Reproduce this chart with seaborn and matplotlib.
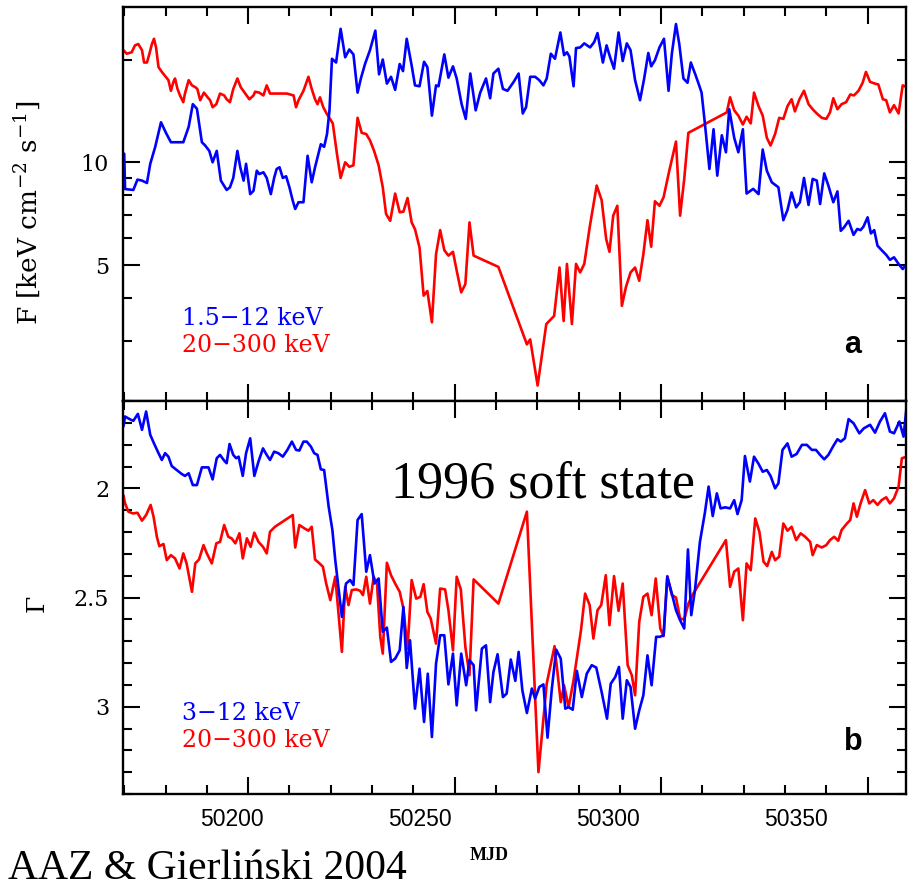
import matplotlib
matplotlib.use("Agg")
import matplotlib.pyplot as plt
import pandas as pd
import seaborn as sns
from matplotlib.ticker import FixedLocator, MultipleLocator, NullFormatter, FuncFormatter

# ---------------------------------------------------------------------------
# Light curves of the 1996 soft state (energy flux and photon index)
# ---------------------------------------------------------------------------

# Energy flux, 1.5-12 keV
soft_flux_mjd = [
    50170.0, 50170.2, 50172.2, 50173.2, 50174.3, 50175.5, 50176.3, 50177.5, 50178.9, 50180.1,
    50181.3, 50182.7, 50184.3, 50185.6, 50186.6, 50187.6, 50188.8, 50189.6, 50190.6, 50191.4,
    50192.4, 50193.4, 50194.8, 50195.6, 50196.4, 50197.4, 50198.1, 50198.9, 50199.5, 50200.5,
    50201.3, 50202.1, 50202.7, 50203.7, 50204.5, 50205.5, 50206.3, 50206.9, 50207.6, 50208.4,
    50209.2, 50210.0, 50210.8, 50211.4, 50212.2, 50213.4, 50214.4, 50215.4, 50216.2, 50217.6,
    50218.4, 50219.1, 50219.7, 50220.3, 50221.3, 50222.4, 50223.5, 50224.5, 50225.5, 50226.5,
    50227.3, 50228.3, 50229.5, 50230.8, 50231.7, 50232.6, 50233.6, 50234.6, 50235.6, 50236.7,
    50237.5, 50238.4, 50239.6, 50240.4, 50241.5, 50242.6, 50243.4, 50244.5, 50245.5, 50246.1,
    50247.5, 50248.5, 50249.6, 50250.5, 50251.7, 50252.7, 50253.8, 50255.1, 50256.2, 50257.6,
    50258.6, 50259.4, 50260.6, 50261.7, 50262.8, 50264.3, 50265.5, 50266.5, 50267.3, 50268.3,
    50269.5, 50270.5, 50271.5, 50272.3, 50273.3, 50274.3, 50275.6, 50276.5, 50277.2, 50277.8,
    50278.8, 50279.4, 50280.4, 50281.4, 50282.8, 50283.8, 50284.6, 50285.9, 50286.8, 50287.6,
    50288.6, 50289.7, 50290.7, 50291.7, 50292.6, 50293.7, 50294.9, 50295.9, 50296.9, 50297.6,
    50298.5, 50299.6, 50300.7, 50301.8, 50302.6, 50303.6, 50304.4, 50305.4, 50306.4, 50307.2,
    50308.2, 50309.0, 50309.8, 50310.6, 50311.7, 50312.7, 50313.6, 50314.7, 50315.7, 50316.5,
    50317.7, 50318.7, 50319.8, 50320.7, 50322.3, 50323.6, 50324.6, 50325.6, 50326.8, 50328.4,
    50329.6, 50330.6, 50331.6, 50332.7, 50333.6, 50334.6, 50335.7, 50336.7, 50337.7, 50338.5,
    50339.5, 50340.5, 50341.7, 50342.7, 50343.5, 50344.3, 50345.4, 50346.6, 50347.5, 50348.3,
    50349.0, 50350.0, 50350.8, 50351.6, 50352.4, 50353.4, 50354.5, 50355.4, 50356.4, 50357.5,
    50358.5, 50359.5, 50360.1,
]
soft_flux = [
    10.6, 8.35, 8.3, 8.9, 8.84, 8.7, 9.9, 11.1, 13.1, 12.2,
    11.45, 11.45, 11.45, 12.7, 14.8, 14.35, 11.45, 11.2, 10.8, 10.0,
    10.8, 8.84, 8.3, 8.45, 9.0, 10.8, 9.67, 8.84, 9.9, 8.07,
    8.25, 9.45, 9.24, 9.35, 9.0, 8.07, 9.0, 9.56, 9.67, 9.0,
    9.1, 8.45, 7.72, 7.3, 7.64, 7.64, 10.45, 8.74, 9.67, 11.3,
    11.1, 12.1, 14.2, 20.1, 19.6, 24.6, 20.3, 21.4, 20.7, 16.0,
    17.6, 19.4, 21.3, 24.3, 18.1, 20.0, 17.0, 17.8, 16.3, 19.4,
    18.5, 23.0, 19.2, 16.8, 16.7, 19.7, 19.0, 13.7, 16.8, 16.7,
    20.7, 17.7, 19.1, 17.6, 14.8, 13.4, 18.2, 14.2, 16.0, 17.6,
    15.4, 18.2, 18.8, 16.4, 16.2, 17.2, 18.2, 13.9, 14.5, 17.8,
    17.8, 17.4, 16.8, 17.6, 20.8, 20.1, 24.0, 20.6, 21.0, 20.4,
    16.7, 21.6, 21.7, 22.3, 21.7, 22.5, 23.9, 19.6, 22.0, 20.4,
    18.8, 24.0, 19.8, 22.3, 21.3, 17.4, 15.2, 17.6, 20.9, 19.1,
    19.9, 21.7, 23.0, 16.2, 20.8, 25.4, 22.2, 17.6, 17.1, 19.6,
    18.2, 17.1, 16.0, 13.0, 9.56, 12.5, 9.14, 12.0, 10.7, 14.3,
    11.8, 10.7, 12.5, 8.1, 8.36, 8.07, 10.9, 9.45, 8.74, 8.45,
    6.77, 7.25, 8.16, 7.38, 7.64, 9.0, 7.5, 8.94, 8.84, 7.55,
    9.28, 8.55, 7.64, 8.22, 6.3, 6.45, 6.74, 6.13, 6.38, 6.33,
    6.48, 6.9, 6.19, 6.33, 5.7, 5.53, 5.36, 5.18, 5.27, 5.04,
    4.87, 5.04, 5.28,
]

# Energy flux, 20-300 keV
hard_flux_mjd = [
    50169.8, 50170.6, 50171.8, 50172.6, 50173.4, 50174.3, 50174.8, 50175.5, 50176.1, 50176.7,
    50177.2, 50177.7, 50178.3, 50179.1, 50179.9, 50180.7, 50181.3, 50181.9, 50182.3, 50182.9,
    50183.5, 50184.3, 50184.7, 50185.6, 50186.4, 50187.2, 50187.7, 50188.4, 50189.3, 50190.2,
    50190.8, 50191.4, 50192.3, 50193.2, 50194.2, 50194.8, 50195.6, 50196.4, 50197.4, 50198.2,
    50199.3, 50200.3, 50201.3, 50201.7, 50202.7, 50203.7, 50204.5, 50205.3, 50207.3, 50209.4,
    50211.0, 50211.6, 50212.2, 50213.4, 50214.6, 50215.4, 50216.2, 50216.8, 50217.4, 50218.2,
    50219.0, 50220.5, 50221.5, 50222.4, 50223.5, 50224.5, 50225.5, 50226.5, 50227.5, 50228.6,
    50229.5, 50230.5, 50231.6, 50232.6, 50233.4, 50234.4, 50235.6, 50236.7, 50237.6, 50238.6,
    50239.6, 50240.4, 50241.5, 50242.5, 50243.4, 50244.5, 50245.5, 50246.5, 50247.5, 50248.5,
    50249.6, 50250.5, 50251.6, 50252.6, 50253.6, 50254.6, 50260.6, 50267.5, 50268.3, 50270.1,
    50272.2, 50274.1, 50275.4, 50276.4, 50277.2, 50278.4, 50279.4, 50280.4, 50281.4, 50282.7,
    50284.4, 50285.6, 50286.7, 50287.5, 50288.4, 50289.4, 50290.5, 50291.5, 50292.6, 50293.7,
    50294.7, 50295.7, 50296.7, 50297.6, 50298.5, 50299.6, 50300.6, 50301.8, 50302.8, 50303.6,
    50304.6, 50305.6, 50306.6, 50315.9, 50316.7, 50317.7, 50318.7, 50319.8, 50320.7, 50321.7,
    50322.5, 50323.6, 50324.6, 50325.6, 50326.5, 50327.6, 50328.6, 50329.6, 50330.6, 50331.6,
    50332.4, 50333.5, 50334.6, 50335.7, 50336.7, 50337.7, 50338.9, 50340.0, 50340.9, 50341.7,
    50342.7, 50343.7, 50344.8, 50345.8, 50346.7, 50347.8, 50348.8, 50349.6, 50350.6, 50351.8,
    50352.6, 50353.7, 50354.5, 50355.4, 50356.4, 50357.5, 50358.5, 50359.5,
]
hard_flux = [
    21.3, 20.8, 21.0, 22.0, 22.2, 21.3, 19.6, 19.6, 20.8, 22.2,
    23.0, 21.7, 19.0, 18.4, 17.9, 17.4, 16.2, 17.2, 17.6, 16.4,
    15.7, 15.0, 15.9, 17.4, 16.8, 16.6, 16.4, 15.2, 16.0, 15.5,
    15.2, 14.5, 14.8, 15.9, 15.7, 15.3, 15.0, 16.4, 17.6, 16.6,
    15.9, 15.3, 15.7, 16.1, 16.0, 15.7, 16.8, 15.9, 15.9, 15.9,
    15.7, 14.5, 15.2, 16.2, 17.8, 16.4, 15.3, 14.8, 15.5, 14.5,
    13.9, 13.0, 10.6, 9.0, 10.0, 9.7, 9.8, 13.5, 12.2, 12.1,
    11.6, 10.8, 9.8, 8.45, 7.06, 6.74, 8.1, 7.14, 7.17, 7.86,
    6.67, 6.37, 5.63, 4.07, 4.2, 3.4, 5.38, 6.33, 5.53, 5.33,
    5.47, 4.82, 4.16, 4.4, 6.67, 5.33, 4.94, 2.93, 3.03, 2.22,
    3.36, 3.55, 4.92, 3.43, 5.04, 3.36, 5.04, 4.76, 5.04, 6.45,
    8.55, 7.75, 5.96, 5.47, 6.98, 7.46, 3.8, 4.32, 4.76, 4.92,
    4.5, 5.38, 6.77, 5.66, 7.69, 7.46, 7.9, 9.24, 10.45, 11.5,
    6.98, 8.94, 12.2, 14.0, 15.5, 14.2, 13.7, 12.9, 13.6, 13.0,
    16.0, 14.6, 13.7, 11.8, 11.2, 12.1, 13.5, 13.4, 14.6, 15.3,
    14.1, 15.3, 16.2, 14.8, 14.3, 13.9, 13.5, 13.4, 14.0, 15.4,
    14.3, 14.8, 15.0, 15.8, 15.7, 16.2, 17.1, 18.4, 17.2, 17.0,
    16.9, 15.3, 15.2, 14.0, 14.7, 13.9, 16.8, 16.6,
]

# Photon index, 3-12 keV
soft_gamma_mjd = [
    50169.8, 50170.2, 50171.3, 50172.2, 50173.3, 50174.3, 50175.3, 50176.3, 50177.2, 50178.3,
    50179.1, 50179.9, 50180.7, 50181.5, 50182.7, 50183.9, 50184.7, 50185.6, 50186.6, 50187.6,
    50188.8, 50190.4, 50191.4, 50192.4, 50193.2, 50194.2, 50194.8, 50195.5, 50196.4, 50197.1,
    50197.7, 50198.7, 50199.5, 50200.5, 50201.5, 50202.5, 50203.6, 50204.5, 50205.3, 50206.3,
    50207.3, 50208.4, 50209.5, 50210.6, 50211.6, 50212.4, 50213.4, 50214.2, 50215.2, 50216.0,
    50216.8, 50217.6, 50218.4, 50219.5, 50220.4, 50221.1, 50222.7, 50223.7, 50224.7, 50225.5,
    50226.5, 50227.5, 50228.6, 50229.5, 50230.6, 50231.6, 50232.6, 50233.6, 50234.6, 50235.6,
    50236.7, 50237.6, 50238.4, 50239.2, 50240.4, 50241.5, 50242.6, 50243.5, 50244.5, 50245.5,
    50246.5, 50247.5, 50248.5, 50249.6, 50250.5, 50251.6, 50252.8, 50253.6, 50254.6, 50255.2,
    50256.6, 50257.6, 50258.6, 50259.4, 50260.4, 50261.7, 50262.6, 50263.6, 50264.7, 50265.5,
    50266.4, 50267.5, 50268.7, 50269.5, 50270.5, 50271.5, 50272.5, 50273.5, 50274.6, 50275.7,
    50276.8, 50277.6, 50278.6, 50279.6, 50280.8, 50282.0, 50283.2, 50284.3, 50285.6, 50286.9,
    50287.8, 50288.9, 50289.8, 50290.7, 50291.7, 50292.6, 50293.7, 50294.7, 50295.7, 50296.7,
    50297.7, 50298.8, 50299.7, 50300.6, 50301.5, 50302.6, 50303.6, 50304.6, 50305.6, 50306.5,
    50307.3, 50308.2, 50309.4, 50310.6, 50311.5, 50312.5, 50313.5, 50314.4, 50315.5, 50316.7,
    50317.7, 50318.5, 50319.5, 50320.3, 50321.5, 50322.5, 50323.6, 50324.6, 50325.6, 50326.5,
    50327.6, 50328.4, 50329.4, 50330.6, 50331.6, 50332.8, 50334.1, 50335.3, 50336.5, 50337.5,
    50338.5, 50339.5, 50340.5, 50341.7, 50342.7, 50343.5, 50344.5, 50345.4, 50346.6, 50348.0,
    50349.1, 50350.6, 50351.8, 50353.0, 50354.2, 50355.4, 50356.4, 50357.7, 50358.7, 50359.6,
]
soft_gamma = [
    1.717, 1.671, 1.683, 1.691, 1.659, 1.732, 1.648, 1.755, 1.794, 1.839,
    1.870, 1.839, 1.855, 1.898, 1.916, 1.934, 1.943, 1.931, 1.985, 1.985,
    1.904, 1.904, 1.959, 1.862, 1.847, 1.873, 1.885, 1.797, 1.847, 1.862,
    1.855, 1.943, 1.839, 1.771, 1.943, 1.878, 1.817, 1.847, 1.870, 1.832,
    1.839, 1.855, 1.824, 1.786, 1.824, 1.827, 1.786, 1.786, 1.809, 1.839,
    1.847, 1.913, 1.916, 2.084, 2.191, 2.329, 2.589, 2.436, 2.420, 2.443,
    2.145, 2.118, 2.382, 2.306, 2.436, 2.413, 2.657, 2.638, 2.795, 2.780,
    2.742, 2.543, 2.823, 2.696, 3.009, 2.826, 3.070, 2.849, 3.139, 2.803,
    2.673, 2.673, 2.898, 2.757, 2.994, 2.757, 2.902, 2.787, 2.810, 3.017,
    2.734, 2.719, 2.979, 2.841, 2.760, 2.956, 2.940, 2.784, 2.882, 2.749,
    2.925, 3.029, 2.917, 2.963, 2.910, 2.898, 3.142, 2.925, 2.739, 2.780,
    3.009, 3.002, 3.014, 2.836, 2.956, 2.849, 2.810, 2.821, 2.933, 3.055,
    2.895, 2.864, 2.818, 3.055, 2.879, 2.910, 3.101, 3.017, 2.948, 2.765,
    2.902, 2.680, 2.680, 2.673, 2.405, 2.482, 2.558, 2.604, 2.642, 2.280,
    2.581, 2.466, 2.245, 2.112, 1.992, 2.127, 2.023, 2.092, 2.087, 2.092,
    2.054, 2.118, 2.054, 1.852, 1.969, 1.855, 1.888, 1.924, 1.916, 1.943,
    2.000, 1.977, 1.824, 1.794, 1.855, 1.843, 1.801, 1.801, 1.824, 1.824,
    1.847, 1.867, 1.847, 1.806, 1.775, 1.786, 1.771, 1.683, 1.702, 1.748,
    1.725, 1.709, 1.745, 1.694, 1.656, 1.740, 1.748, 1.694, 1.763, 1.598,
]

# Photon index, 20-300 keV
hard_gamma_mjd = [
    50169.8, 50170.2, 50171.0, 50172.1, 50173.2, 50174.3, 50175.3, 50176.4, 50177.1, 50177.9,
    50178.5, 50179.5, 50180.3, 50181.3, 50182.3, 50183.4, 50184.3, 50185.1, 50186.4, 50187.2,
    50188.1, 50189.2, 50190.0, 50191.2, 50192.3, 50193.2, 50194.2, 50195.2, 50196.0, 50196.9,
    50197.9, 50198.7, 50199.7, 50200.6, 50201.5, 50202.5, 50203.6, 50204.5, 50205.3, 50206.5,
    50210.8, 50211.4, 50212.4, 50213.6, 50214.6, 50215.4, 50216.2, 50217.3, 50218.1, 50218.9,
    50219.9, 50221.1, 50221.6, 50222.7, 50223.5, 50224.3, 50225.1, 50226.2, 50227.1, 50227.8,
    50228.6, 50229.5, 50230.4, 50231.2, 50232.0, 50232.6, 50233.6, 50234.6, 50235.6, 50236.7,
    50237.6, 50238.6, 50239.6, 50240.7, 50241.7, 50242.5, 50243.4, 50244.2, 50245.5, 50246.5,
    50247.7, 50248.5, 50249.6, 50250.5, 50251.5, 50252.6, 50253.6, 50254.6, 50260.6, 50267.5,
    50270.3, 50272.3, 50274.2, 50275.7, 50276.5, 50277.6, 50278.8, 50280.6, 50281.6, 50282.7,
    50283.6, 50284.6, 50285.5, 50286.6, 50287.5, 50288.6, 50289.7, 50290.7, 50291.9, 50292.9,
    50293.7, 50294.7, 50295.7, 50296.7, 50297.7, 50298.7, 50299.8, 50300.6, 50301.5, 50302.6,
    50303.6, 50304.6, 50305.6, 50306.6, 50307.8, 50315.7, 50316.7, 50317.7, 50318.7, 50319.8,
    50320.7, 50321.7, 50322.8, 50323.8, 50324.8, 50325.7, 50326.8, 50327.6, 50328.6, 50329.6,
    50330.6, 50331.6, 50332.7, 50333.8, 50334.9, 50336.1, 50336.7, 50337.7, 50338.9, 50340.0,
    50340.9, 50341.9, 50342.9, 50343.7, 50345.0, 50345.8, 50346.6, 50347.4, 50348.3, 50349.4,
    50350.4, 50351.4, 50352.4, 50353.4, 50354.5, 50355.4, 50356.4, 50357.5, 50358.3, 50359.5,
]
hard_gamma = [
    2.031, 2.069, 2.107, 2.115, 2.112, 2.148, 2.122, 2.076, 2.130, 2.222,
    2.265, 2.255, 2.329, 2.306, 2.321, 2.367, 2.298, 2.344, 2.474, 2.344,
    2.326, 2.260, 2.298, 2.344, 2.252, 2.245, 2.168, 2.222, 2.229, 2.252,
    2.206, 2.321, 2.229, 2.268, 2.203, 2.245, 2.268, 2.298, 2.199, 2.176,
    2.122, 2.271, 2.168, 2.183, 2.194, 2.176, 2.326, 2.344, 2.359, 2.436,
    2.512, 2.405, 2.512, 2.749, 2.451, 2.535, 2.466, 2.463, 2.469, 2.489,
    2.405, 2.528, 2.405, 2.436, 2.680, 2.757, 2.341, 2.398, 2.436, 2.474,
    2.550, 2.734, 2.420, 2.505, 2.497, 2.439, 2.566, 2.596, 2.711, 2.459,
    2.463, 2.558, 2.742, 2.405, 2.463, 2.726, 2.856, 2.417, 2.528, 2.107,
    3.300, 2.894, 2.723, 2.979, 2.902, 3.002, 2.879, 2.650, 2.482, 2.535,
    2.688, 2.558, 2.535, 2.398, 2.627, 2.402, 2.561, 2.436, 2.810, 2.856,
    2.948, 2.612, 2.497, 2.482, 2.581, 2.413, 2.642, 2.677, 2.402, 2.489,
    2.500, 2.596, 2.601, 2.528, 2.482, 2.237, 2.451, 2.382, 2.367, 2.604,
    2.344, 2.375, 2.138, 2.199, 2.336, 2.356, 2.291, 2.329, 2.313, 2.161,
    2.194, 2.176, 2.237, 2.206, 2.222, 2.245, 2.306, 2.260, 2.271, 2.260,
    2.237, 2.222, 2.240, 2.191, 2.161, 2.145, 2.069, 2.130, 2.069, 2.008,
    2.069, 2.054, 2.076, 2.054, 2.041, 2.069, 2.046, 1.992, 1.862, 1.855,
]

flux_ticks = [5, 10]
flux_minor_ticks = [3, 4, 6, 7, 8, 9, 20]
gamma_ticks = [2, 2.5, 3]
mjd_ticks = [50200, 50250, 50300, 50350]

band_labels_flux = ["1.5\u221212 keV", "20\u2212300 keV"]
band_labels_gamma = ["3\u221212 keV", "20\u2212300 keV"]

BLUE = "#0000ff"
RED = "#ff0000"

sns.set_style("ticks")
plt.rcParams["font.family"] = ["DejaVu Serif", "DejaVu Sans"]
plt.rcParams["mathtext.fontset"] = "dejavuserif"
for key in ("text.color", "axes.labelcolor", "xtick.color", "ytick.color",
            "axes.edgecolor"):
    plt.rcParams[key] = "black"

W, H = 910, 890
fig = plt.figure(figsize=(W / 100, H / 100), dpi=100)
fig.patch.set_facecolor("white")

left_px, right_px = 123, 906
ax_f = fig.add_axes([left_px / W, 1 - 401 / H, (right_px - left_px) / W, 394 / H])
ax_g = fig.add_axes([left_px / W, 1 - 794 / H, (right_px - left_px) / W, 393 / H])

df_f_soft = pd.DataFrame({"MJD": soft_flux_mjd, "F": soft_flux})
df_f_hard = pd.DataFrame({"MJD": hard_flux_mjd, "F": hard_flux})
df_g_soft = pd.DataFrame({"MJD": soft_gamma_mjd, "G": soft_gamma})
df_g_hard = pd.DataFrame({"MJD": hard_gamma_mjd, "G": hard_gamma})

lw = 1.9
sns.lineplot(data=df_f_hard, x="MJD", y="F", ax=ax_f, color=RED, lw=lw,
             estimator=None, sort=False)
sns.lineplot(data=df_f_soft, x="MJD", y="F", ax=ax_f, color=BLUE, lw=lw,
             estimator=None, sort=False)
sns.lineplot(data=df_g_hard, x="MJD", y="G", ax=ax_g, color=RED, lw=lw,
             estimator=None, sort=False)
sns.lineplot(data=df_g_soft, x="MJD", y="G", ax=ax_g, color=BLUE, lw=lw,
             estimator=None, sort=False)

x_min, x_max = 50169.7, 50359.3
for ax in (ax_f, ax_g):
    ax.set_xlim(x_min, x_max)
    ax.set_xlabel("")
    ax.set_ylabel("")
    ax.xaxis.set_major_locator(FixedLocator(mjd_ticks))
    ax.xaxis.set_minor_locator(MultipleLocator(10))
    for s in ax.spines.values():
        s.set_visible(True)
        s.set_linewidth(1.7)
        s.set_color("black")
    ax.tick_params(which="both", direction="in", top=True, right=True,
                   bottom=True, left=True, color="black", width=1.5,
                   labelbottom=False)
    ax.tick_params(which="major", length=12, pad=10)
    ax.tick_params(which="minor", length=6.5)
    ax.grid(False)

# panel a: energy flux, log scale
ax_f.set_yscale("log")
ax_f.set_ylim(2.0, 28.5)
ax_f.yaxis.set_major_locator(FixedLocator(flux_ticks))
ax_f.yaxis.set_minor_locator(FixedLocator(flux_minor_ticks))
ax_f.yaxis.set_major_formatter(FuncFormatter(lambda v, p: f"{v:g}"))
ax_f.yaxis.set_minor_formatter(NullFormatter())

# panel b: photon index, inverted
ax_g.set_ylim(3.4, 1.6)
ax_g.yaxis.set_major_locator(FixedLocator(gamma_ticks))
ax_g.yaxis.set_minor_locator(MultipleLocator(0.1))
ax_g.yaxis.set_major_formatter(FuncFormatter(lambda v, p: f"{v:g}"))

for ax in (ax_f, ax_g):
    for lab in ax.get_yticklabels():
        lab.set_fontfamily("DejaVu Serif")
        lab.set_fontsize(16)

# MJD labels come from a label scale that runs 50171.0 - 50379.3 across the frame
lab_lo, lab_hi = 50171.0, 50379.3


def to_label(v):
    return lab_lo + (v - x_min) * (lab_hi - lab_lo) / (x_max - x_min)


def from_label(v):
    return x_min + (v - lab_lo) * (x_max - x_min) / (lab_hi - lab_lo)


sec = ax_g.secondary_xaxis("bottom", functions=(to_label, from_label))
sec.set_xticks(mjd_ticks)
sec.xaxis.set_minor_locator(FixedLocator([]))
sec.xaxis.set_major_formatter(FuncFormatter(lambda v, p: f"{v:.0f}"))
sec.tick_params(which="both", length=0, pad=10, colors="black")
sec.spines["bottom"].set_visible(False)
for lab in sec.get_xticklabels():
    lab.set_fontfamily("Liberation Sans")
    lab.set_fontsize(16.5)

# axis titles
fig.text(28 / W, 1 - 213 / H, r"F [keV cm$^{-2}$ s$^{-1}$]", rotation=90,
         ha="center", va="center", fontsize=19, family="DejaVu Serif")
fig.text(37 / W, 1 - 603 / H, "\u0393", rotation=90,
         ha="center", va="center", fontsize=18, family="DejaVu Serif")
fig.text(489 / W, 1 - 855 / H, "MJD", ha="center", va="center",
         fontsize=13, fontweight="bold", family="Liberation Serif")

# band labels
lx = (182 - left_px) / (right_px - left_px)
ax_f.text(lx, 0.193, band_labels_flux[0], transform=ax_f.transAxes, color=BLUE,
          fontsize=17, family="DejaVu Serif", va="baseline", ha="left")
ax_f.text(lx, 0.124, band_labels_flux[1], transform=ax_f.transAxes, color=RED,
          fontsize=17, family="DejaVu Serif", va="baseline", ha="left")
ax_g.text(lx, 0.188, band_labels_gamma[0], transform=ax_g.transAxes, color=BLUE,
          fontsize=17, family="DejaVu Serif", va="baseline", ha="left")
ax_g.text(lx, 0.120, band_labels_gamma[1], transform=ax_g.transAxes, color=RED,
          fontsize=17, family="DejaVu Serif", va="baseline", ha="left")

# panel letters
px = (853 - left_px) / (right_px - left_px)
ax_f.text(px, 0.122, "a", transform=ax_f.transAxes, fontsize=22, fontweight="bold",
          family="Liberation Sans", ha="center", va="baseline")
ax_g.text(px, 0.112, "b", transform=ax_g.transAxes, fontsize=22, fontweight="bold",
          family="Liberation Sans", ha="center", va="baseline")

# annotations
fig.text(391 / W, 1 - 497 / H, "1996 soft state", fontsize=37.5,
         family="Liberation Serif", ha="left", va="baseline")
fig.text(8 / W, 1 - 879 / H, "AAZ & Gierli\u0144ski 2004", fontsize=30,
         family="Liberation Serif", ha="left", va="baseline")

fig.savefig("out.png", dpi=100, facecolor="white")
